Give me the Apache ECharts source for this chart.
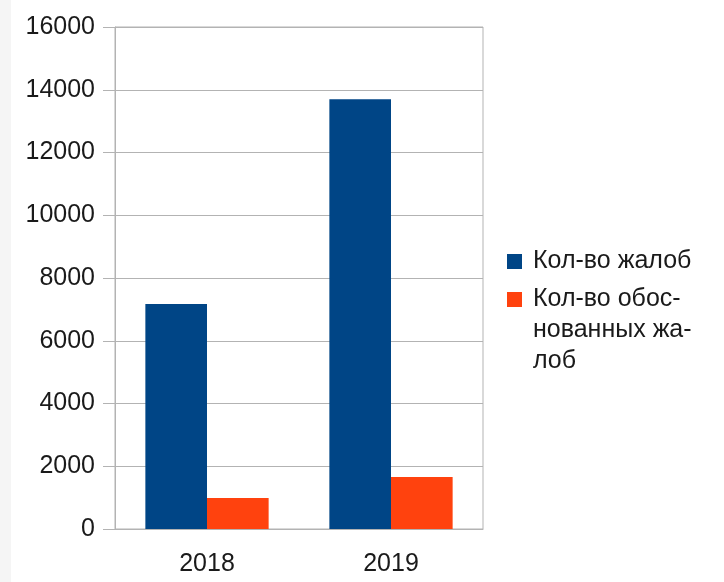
<!DOCTYPE html>
<html>
<head>
<meta charset="utf-8">
<script src="https://cdn.jsdelivr.net/npm/echarts@6/dist/echarts.min.js"></script>
<style>
  html, body { margin: 0; padding: 0; background: #f5f5f5; }
  #chart { position: absolute; left: 11px; top: 0; width: 713px; height: 582px; background: #fff; }
</style>
</head>
<body>
<div id="chart"></div>
<script>
// данные с картинки
const years = ['2018', '2019'];
const complaints = [7170, 13700];
const justified = [990, 1660];
const seriesNames = ['Кол-во жалоб', 'Кол-во обоснованных жалоб'];

const axisGray = '#b3b3b3';
const font = 'Liberation Sans, Arial, sans-serif';

const chart = echarts.init(document.getElementById('chart'));
chart.setOption({
  animation: false,
  textStyle: { fontFamily: font },
  grid: {
    left: 104, right: 241, top: 27, bottom: 53,
    show: true, borderColor: axisGray, borderWidth: 1, backgroundColor: 'transparent'
  },
  legend: [
    {
      data: [seriesNames[0]],
      left: 496, top: 246, padding: 0,
      itemWidth: 15, itemHeight: 15,
      icon: 'rect',
      textStyle: { fontSize: 25, color: '#1a1a1a', lineHeight: 31, padding: [0, 0, 0, 6] }
    },
    {
      data: [seriesNames[1]],
      left: 496, top: 222, padding: 0,
      itemWidth: 15, itemHeight: 15,
      icon: 'rect',
      // перенос как в оригинале; две пустые строки сверху, чтобы первая строка была на уровне значка
      formatter: () => '\n\nКол-во обос-\nнованных жа-\nлоб',
      textStyle: { fontSize: 25, color: '#1a1a1a', lineHeight: 31, padding: [0, 0, 0, 6] }
    }
  ],
  xAxis: {
    type: 'category',
    data: years,
    axisLine: { lineStyle: { color: axisGray } },
    axisTick: { length: 12, lineStyle: { color: axisGray } },
    axisLabel: { fontSize: 25, color: '#1a1a1a', margin: 23 }
  },
  yAxis: {
    type: 'value',
    min: 0, max: 16000, interval: 2000,
    axisLine: { show: true, lineStyle: { color: axisGray } },
    axisTick: { show: true, length: 12, lineStyle: { color: axisGray } },
    axisLabel: { fontSize: 25, color: '#1a1a1a', margin: 20, formatter: v => String(v) },
    splitLine: { lineStyle: { color: axisGray } }
  },
  series: [
    {
      name: seriesNames[0], type: 'bar', data: complaints,
      barGap: 0, barCategoryGap: '33%',
      itemStyle: { color: '#004586' }
    },
    {
      name: seriesNames[1], type: 'bar', data: justified,
      barGap: 0, barCategoryGap: '33%',
      itemStyle: { color: '#ff420e' }
    }
  ]
});
</script>
</body>
</html>
